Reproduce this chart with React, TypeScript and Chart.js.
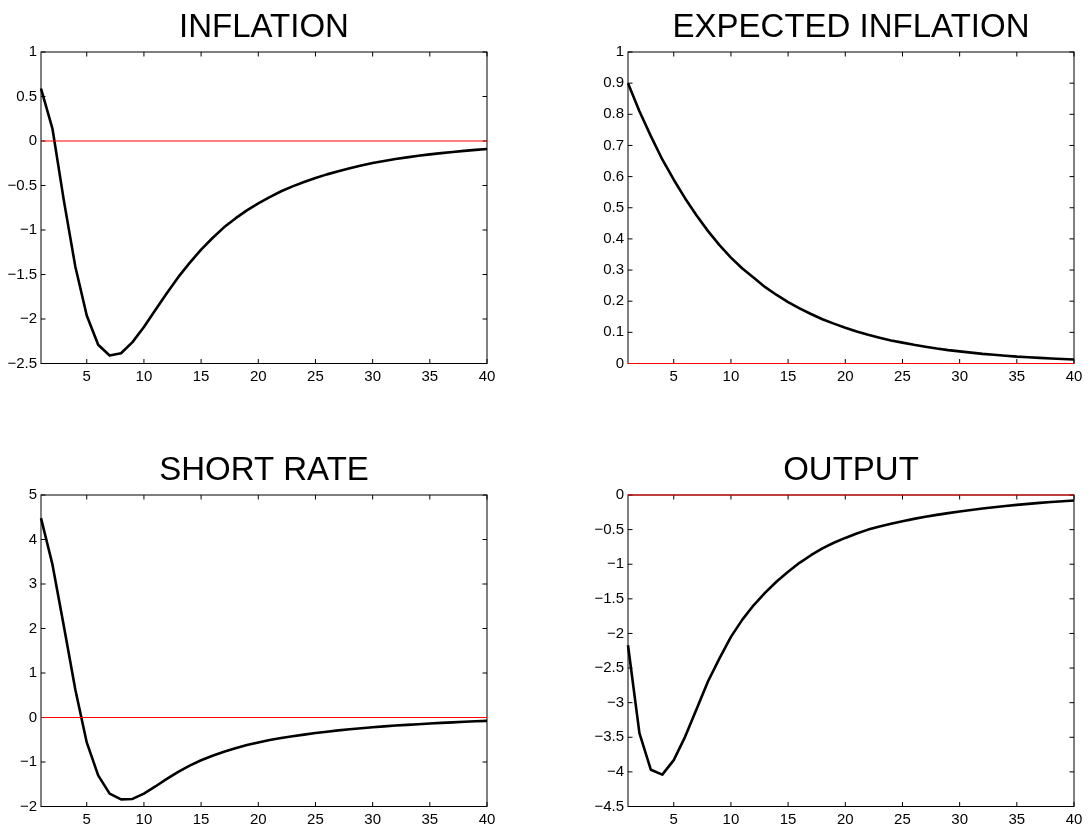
import React, { useEffect, useRef } from "react";
import { Chart, registerables } from "chart.js";

Chart.register(...registerables);

// ---------- data ----------
const periods = [
  1, 2, 3, 4, 5, 6, 7, 8, 9, 10, 11, 12, 13, 14, 15, 16, 17, 18, 19, 20,
  21, 22, 23, 24, 25, 26, 27, 28, 29, 30, 31, 32, 33, 34, 35, 36, 37, 38, 39, 40,
];
const xTicks = [5, 10, 15, 20, 25, 30, 35, 40];

const inflation = [
  0.59, 0.14, -0.67, -1.41, -1.96, -2.29, -2.41, -2.385, -2.26, -2.09,
  -1.9, -1.71, -1.53, -1.37, -1.22, -1.09, -0.97, -0.87, -0.78, -0.7,
  -0.63, -0.565, -0.51, -0.46, -0.415, -0.375, -0.34, -0.305, -0.275, -0.248,
  -0.224, -0.203, -0.184, -0.166, -0.15, -0.136, -0.123, -0.111, -0.1, -0.09,
];
const expectedInflation = [
  0.9, 0.81, 0.73, 0.655, 0.59, 0.53, 0.475, 0.425, 0.38, 0.34,
  0.305, 0.275, 0.245, 0.22, 0.197, 0.177, 0.159, 0.142, 0.128, 0.115,
  0.103, 0.092, 0.083, 0.074, 0.067, 0.06, 0.054, 0.048, 0.043, 0.039,
  0.035, 0.031, 0.028, 0.025, 0.022, 0.02, 0.018, 0.016, 0.0145, 0.013,
];
const shortRate = [
  4.48, 3.44, 2.05, 0.63, -0.56, -1.3, -1.71, -1.84, -1.83, -1.71,
  -1.55, -1.38, -1.22, -1.08, -0.96, -0.86, -0.77, -0.69, -0.62, -0.56,
  -0.505, -0.46, -0.42, -0.385, -0.35, -0.32, -0.29, -0.265, -0.24, -0.22,
  -0.2, -0.18, -0.165, -0.15, -0.135, -0.12, -0.11, -0.095, -0.085, -0.075,
];
const output = [
  -2.17, -3.44, -3.97, -4.04, -3.83, -3.49, -3.09, -2.69, -2.36, -2.05,
  -1.8, -1.59, -1.41, -1.25, -1.11, -0.98, -0.87, -0.77, -0.69, -0.62,
  -0.555, -0.5, -0.455, -0.415, -0.378, -0.345, -0.315, -0.287, -0.262, -0.238,
  -0.216, -0.196, -0.178, -0.16, -0.143, -0.128, -0.114, -0.102, -0.09, -0.08,
];
const zeroLine = [
  0, 0, 0, 0, 0, 0, 0, 0, 0, 0, 0, 0, 0, 0, 0, 0, 0, 0, 0, 0,
  0, 0, 0, 0, 0, 0, 0, 0, 0, 0, 0, 0, 0, 0, 0, 0, 0, 0, 0, 0,
];

const inflationTicks = [-2.5, -2, -1.5, -1, -0.5, 0, 0.5, 1];
const expectedInflationTicks = [0, 0.1, 0.2, 0.3, 0.4, 0.5, 0.6, 0.7, 0.8, 0.9, 1];
const shortRateTicks = [-2, -1, 0, 1, 2, 3, 4, 5];
const outputTicks = [-4.5, -4, -3.5, -3, -2.5, -2, -1.5, -1, -0.5, 0];

const titles = ["INFLATION", "EXPECTED INFLATION", "SHORT RATE", "OUTPUT"];

// ---------- layout ----------
const FONT = "'Liberation Sans', Arial, Helvetica, sans-serif";

type PanelSpec = {
  title: string;
  values: number[];
  yTicks: number[];
  left: number;
  top: number;
  width: number;
  height: number;
};

const panels: PanelSpec[] = [
  { title: titles[0], values: inflation, yTicks: inflationTicks, left: 0, top: 0, width: 545, height: 414 },
  { title: titles[1], values: expectedInflation, yTicks: expectedInflationTicks, left: 587, top: 0, width: 503, height: 414 },
  { title: titles[2], values: shortRate, yTicks: shortRateTicks, left: 0, top: 443, width: 545, height: 386 },
  { title: titles[3], values: output, yTicks: outputTicks, left: 587, top: 443, width: 503, height: 386 },
];

const AREA_LEFT = 41;
const AREA_RIGHT = 487;
const AREA_BOTTOM_OFFSET = 363.5; // from panel top
const TICK_LEN = 4.5;

const fmt = (v: number) => {
  const s = String(v);
  return s.startsWith("-") ? "\u2212" + s.slice(1) : s;
};

const framePlugin = {
  id: "matlabFrame",
  beforeDatasetsDraw(chart: any) {
    const { ctx, chartArea } = chart;
    const { left, right, top, bottom } = chartArea;
    const xs = chart.scales.x;
    const ys = chart.scales.y;
    ctx.save();
    ctx.strokeStyle = "#000";
    ctx.lineWidth = 1;
    ctx.strokeRect(left, top, right - left, bottom - top);
    ctx.beginPath();
    xs.ticks.forEach((t: any) => {
      const px = xs.getPixelForValue(t.value);
      ctx.moveTo(px, bottom);
      ctx.lineTo(px, bottom - TICK_LEN);
      ctx.moveTo(px, top);
      ctx.lineTo(px, top + TICK_LEN);
    });
    ys.ticks.forEach((t: any) => {
      const py = ys.getPixelForValue(t.value);
      ctx.moveTo(left, py);
      ctx.lineTo(left + TICK_LEN, py);
      ctx.moveTo(right, py);
      ctx.lineTo(right - TICK_LEN, py);
    });
    ctx.stroke();
    ctx.restore();
  },
};

function Panel({ spec }: { spec: PanelSpec }) {
  const ref = useRef<HTMLCanvasElement | null>(null);
  useEffect(() => {
    if (!ref.current) return;
    const yMin = spec.yTicks[0];
    const yMax = spec.yTicks[spec.yTicks.length - 1];
    const chart = new Chart(ref.current, {
      type: "line",
      data: {
        datasets: [
          {
            data: periods.map((p, i) => ({ x: p, y: zeroLine[i] })),
            borderColor: "#ff0000",
            borderWidth: 1.2,
            pointRadius: 0,
            tension: 0,
            clip: false as any,
            order: 0,
          },
          {
            data: periods.map((p, i) => ({ x: p, y: spec.values[i] })),
            borderColor: "#000000",
            borderWidth: 2.6,
            pointRadius: 0,
            tension: 0,
            borderJoinStyle: "round",
            clip: 3 as any,
            order: 1,
          },
        ],
      },
      options: {
        animation: false,
        responsive: false,
        events: [],
        layout: {
          padding: { left: 0, top: 0, right: spec.width - AREA_RIGHT, bottom: 0 },
        },
        plugins: {
          legend: { display: false },
          tooltip: { enabled: false },
          title: {
            display: true,
            text: spec.title,
            fullSize: false,
            color: "#000",
            font: { family: FONT, size: 33, weight: "normal", lineHeight: 1.2 },
            padding: { top: 8, bottom: 4.4 },
          },
        },
        scales: {
          x: {
            type: "linear",
            min: 1,
            max: 40,
            grid: { display: false, drawTicks: false },
            border: { display: false },
            ticks: {
              color: "#000",
              padding: 4,
              maxRotation: 0,
              autoSkip: false,
              font: { family: FONT, size: 15 },
              callback: (v: any) => fmt(Number(v)),
            },
            afterBuildTicks: (scale: any) => {
              scale.ticks = xTicks.map((v) => ({ value: v }));
            },
            afterFit: (scale: any) => {
              scale.height = spec.height - AREA_BOTTOM_OFFSET;
            },
          },
          y: {
            type: "linear",
            min: yMin,
            max: yMax,
            grid: { display: false, drawTicks: false },
            border: { display: false },
            ticks: {
              color: "#000",
              padding: 4,
              autoSkip: false,
              font: { family: FONT, size: 15 },
              callback: (v: any) => fmt(Number(v)),
            },
            afterBuildTicks: (scale: any) => {
              scale.ticks = spec.yTicks.map((v) => ({ value: v }));
            },
            afterFit: (scale: any) => {
              scale.width = AREA_LEFT;
            },
          },
        },
      },
      plugins: [framePlugin],
    });
    return () => chart.destroy();
  }, [spec]);
  return (
    <canvas
      ref={ref}
      width={spec.width}
      height={spec.height}
      style={{ position: "absolute", left: spec.left, top: spec.top, width: spec.width, height: spec.height }}
    />
  );
}

export default function App() {
  return (
    <div
      style={{
        position: "absolute",
        left: 0,
        top: 0,
        width: 1090,
        height: 829,
        overflow: "hidden",
        background: "#fff",
      }}
    >
      {panels.map((p) => (
        <Panel key={p.title} spec={p} />
      ))}
    </div>
  );
}
